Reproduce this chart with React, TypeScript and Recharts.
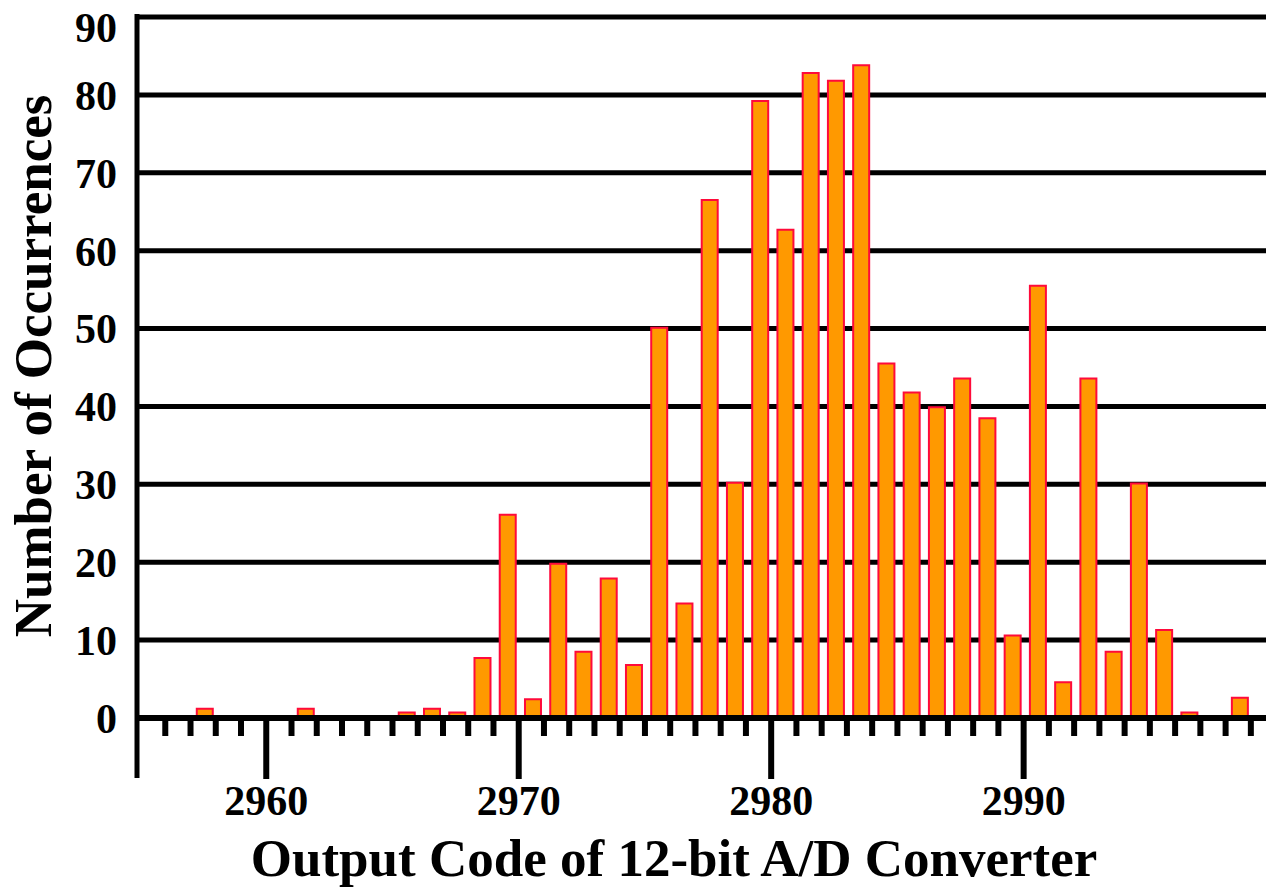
import { BarChart, Bar, XAxis, YAxis, CartesianGrid, ReferenceLine } from "recharts";

// output code of each non-empty bin and its count
const CODES = [
  2957, 2961, 2965, 2966, 2967, 2968, 2969, 2970, 2971, 2972, 2973, 2974, 2975, 2976, 2977,
  2978, 2979, 2980, 2981, 2982, 2983, 2984, 2985, 2986, 2987, 2988, 2989, 2990, 2991, 2992,
  2993, 2994, 2995, 2996, 2998,
];
const COUNTS = [
  1.2, 1.2, 0.7, 1.2, 0.7, 7.7, 26.1, 2.4, 19.8, 8.5, 17.9, 6.8, 50.1, 14.7, 66.5,
  30.2, 79.2, 62.7, 82.8, 81.8, 83.8, 45.5, 41.8, 39.9, 43.6, 38.5, 10.6, 55.5, 4.6, 43.6,
  8.5, 30.1, 11.3, 0.7, 2.6,
];
const Y_TICKS = [0, 10, 20, 30, 40, 50, 60, 70, 80, 90];
const X_LABELS = [2960, 2970, 2980, 2990];
const X_FIRST = 2956;
const X_LAST = 2999;

const FONT = "'Liberation Serif', 'Times New Roman', serif";

const data = CODES.map((code, i) => ({ code, count: COUNTS[i] }));
const xTicks = Array.from({ length: X_LAST - X_FIRST + 1 }, (_, i) => X_FIRST + i);

function CodeTick({ x, y, payload }: any) {
  const major = X_LABELS.includes(payload.value);
  return (
    <g>
      <line x1={x} x2={x} y1={y} y2={y + (major ? 61 : 18)} stroke="#000" strokeWidth={6} />
      {major && (
        <text x={x} y={y + 97} textAnchor="middle" fontFamily={FONT} fontWeight="bold" fontSize={42} fill="#000">
          {payload.value}
        </text>
      )}
    </g>
  );
}

function CountTick({ x, y, payload }: any) {
  // top label sits a little below its gridline, as in the original
  const dy = payload.value === 90 ? 10 : 0;
  return (
    <text x={x} y={y + dy} dy="0.355em" textAnchor="end" fontFamily={FONT} fontWeight="bold" fontSize={42} fill="#000">
      {payload.value}
    </text>
  );
}

function XTitle() {
  return (
    <text x={674} y={876} textAnchor="middle" fontFamily={FONT} fontWeight="bold" fontSize={53} fill="#000">
      Output Code of 12-bit A/D Converter
    </text>
  );
}

function YTitle() {
  return (
    <text transform="translate(51,366) rotate(-90)" textAnchor="middle" fontFamily={FONT} fontWeight="bold" fontSize={53} fill="#000">
      Number of Occurrences
    </text>
  );
}

export default function App() {
  return (
    <div style={{ width: 1266, height: 888, background: "#fff" }}>
      <style>{`body{margin:0}`}</style>
      <BarChart width={1266} height={888} data={data} margin={{ top: 17, right: 0, bottom: 0, left: 0 }}>
        <CartesianGrid horizontal vertical={false} stroke="#000" strokeWidth={5} />
        <XAxis
          type="number"
          dataKey={(d: any) => d.code + 0.55}
          domain={[2954.88, 2999.6]}
          allowDataOverflow
          ticks={xTicks}
          interval={0}
          height={170}
          tickSize={0}
          tickMargin={0}
          tickLine={false}
          axisLine={{ stroke: "#000", strokeWidth: 6 }}
          tick={<CodeTick />}
          label={<XTitle />}
        />
        <YAxis
          type="number"
          domain={[0, 90]}
          ticks={Y_TICKS}
          interval={0}
          width={137}
          tickSize={0}
          tickMargin={20}
          tickLine={false}
          axisLine={false}
          tick={<CountTick />}
          label={<YTitle />}
        />
        <ReferenceLine
          segment={[{ x: 2954.88, y: -7.7 }, { x: 2954.88, y: 90.4 }]}
          stroke="#000"
          strokeWidth={5}
          ifOverflow="visible"
        />
        <Bar dataKey="count" barSize={16} fill="#FF9900" stroke="#FF0A3A" strokeWidth={2} isAnimationActive={false} />
      </BarChart>
    </div>
  );
}
